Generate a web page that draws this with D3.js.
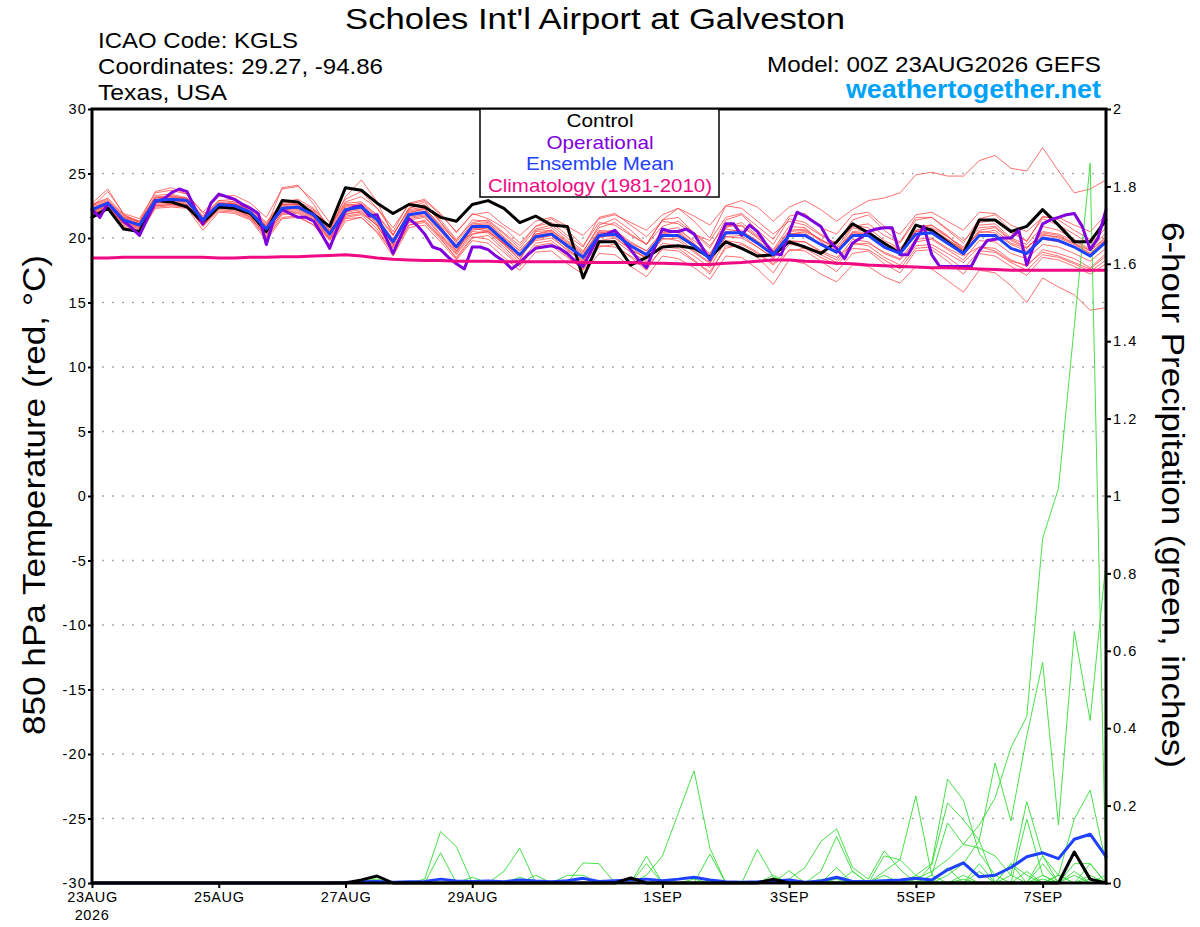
<!DOCTYPE html>
<html><head><meta charset="utf-8">
<script src="https://cdn.jsdelivr.net/npm/d3@7"></script>
<style>
body{margin:0;background:#fff}
svg{display:block}
text{font-family:"Liberation Sans",Arial,Helvetica,sans-serif}
</style>
</head><body>
<svg id="c" width="1200" height="927"></svg>
<script>
// ---------------- DATA ----------------
const hours6 = d3.range(0, 385, 6);   // forecast hours, 6-hourly (65)
const hours3 = d3.range(0, 385, 3);   // forecast hours, 3-hourly (129)

const dateTickHours  = [0, 48, 96, 144, 216, 264, 312, 360];
const dateTickLabels = ["23AUG","25AUG","27AUG","29AUG","1SEP","3SEP","5SEP","7SEP"];
const yearLabel = "2026";
const tempTicks = [-30,-25,-20,-15,-10,-5,0,5,10,15,20,25,30];
const tempTickLabels = ["-30","-25","-20","-15","-10","-5","0","5","10","15","20","25","30"];
const precipTicks = [0,0.2,0.4,0.6,0.8,1,1.2,1.4,1.6,1.8,2];
const precipTickLabels = ["0","0.2","0.4","0.6","0.8","1","1.2","1.4","1.6","1.8","2"];
const legendLabels = ["Control","Operational","Ensemble Mean","Climatology (1981-2010)"];

// 850 hPa temperature (C)
const controlTemp = [21.6,22.3,20.7,20.5,22.9,22.8,22.4,21.2,
 22.4,22.3,21.9,20.5,22.9,22.8,21.8,20.9,
 23.9,23.7,22.7,21.9,22.6,22.4,21.6,21.3,
 22.6,22.9,22.3,21.2,21.7,21.0,20.9,16.9,
 19.7,19.7,17.9,18.5,19.3,19.4,19.2,18.5,
 19.7,19.2,18.6,18.7,19.7,19.3,18.8,19.7,
 21.1,20.4,19.6,18.8,21.0,20.6,19.7,18.8,
 21.4,21.4,20.5,20.9,22.2,21.0,19.7,19.7,21.4];

const operationalTemp = [22.2,21.6,22.7,22.0,21.3,20.8,20.2,21.5,
 22.8,23.0,23.5,23.8,23.6,22.3,21.1,22.7,
 23.4,23.2,23.0,22.6,22.3,21.9,19.5,21.5,
 22.2,21.9,21.6,21.6,21.3,20.3,19.2,20.8,
 22.1,22.4,22.5,21.7,21.8,20.2,18.8,20.2,
 21.5,21.0,20.3,19.3,19.1,18.5,18.0,17.6,
 19.3,19.3,19.1,18.6,18.2,17.6,18.1,18.7,
 19.2,19.3,19.4,19.2,18.8,18.2,17.8,19.0,
 20.2,20.3,20.6,19.9,19.1,18.3,17.7,19.2,
 20.7,20.5,20.5,20.7,20.3,19.3,18.3,19.7,
 21.1,21.1,20.2,21.0,20.5,19.6,18.8,18.7,
 20.4,22.0,21.7,21.3,20.9,19.8,19.2,18.4,
 19.6,20.0,20.5,20.7,20.8,20.8,18.7,18.7,
 19.8,20.9,18.7,17.8,17.8,17.8,17.8,17.8,
 19.0,19.8,19.9,20.0,20.0,20.6,17.9,19.6,
 21.1,21.4,21.6,21.8,21.9,20.9,19.1,20.0,
 22.2];

const meanTemp = [22.2,22.7,21.4,21.0,22.9,23.0,22.9,21.4,
 22.6,22.5,22.0,20.7,22.3,22.4,21.8,20.3,
 22.2,22.4,21.4,19.7,21.8,22.0,20.7,19.3,
 20.9,20.9,19.8,18.7,20.1,20.3,19.4,18.5,
 20.2,20.3,19.4,18.7,20.2,20.2,19.4,18.4,
 20.4,20.4,19.6,18.7,20.2,20.2,19.5,18.9,
 20.2,20.2,19.3,18.8,20.3,20.4,19.6,18.8,
 20.2,20.2,19.2,18.8,20.0,19.8,19.3,18.6,19.7];

const climTemp = [18.45,18.45,18.5,18.5,18.5,18.5,18.5,18.5,
 18.45,18.45,18.5,18.5,18.55,18.55,18.6,18.65,
 18.7,18.6,18.45,18.35,18.3,18.25,18.25,18.2,
 18.2,18.2,18.15,18.15,18.15,18.15,18.15,18.1,
 18.1,18.1,18.1,18.05,18.05,18.0,17.95,17.95,
 18.05,18.1,18.2,18.3,18.3,18.2,18.15,18.05,
 18.0,17.9,17.85,17.8,17.75,17.7,17.7,17.65,
 17.6,17.55,17.5,17.5,17.5,17.5,17.5,17.5,17.5];

const memberTemps = [
 [22.6,23.1,21.8,21.2,23.3,23.4,23.1,21.6, 22.9,23.0,22.4,21.2,22.8,23.0,22.3,20.9, 22.8,23.2,22.3,20.8,22.6,22.9,21.8,20.5, 21.8,22.0,21.0,20.2,21.3,21.6,20.9,20.2, 21.5,21.8,21.2,20.6,21.8,22.3,21.7,21.0, 22.5,22.9,22.4,21.3,22.4,22.9,22.2,21.3, 22.2,22.9,23.1,23.5,24.9,25.1,24.8,24.8, 26.0,26.4,25.4,25.2,27.0,25.2,23.5,23.8,24.5],
 [21.8,22.3,21.0,20.5,22.4,22.5,22.4,20.9, 22.1,22.0,21.5,20.0,21.6,21.7,21.0,19.5, 21.5,21.6,20.4,18.6,20.8,21.0,19.7,18.3, 19.8,19.6,18.5,17.5,18.9,19.0,18.0,17.2, 18.8,18.7,17.8,17.0,18.6,18.4,17.7,16.8, 18.6,18.5,17.6,16.4,18.3,18.0,17.2,16.6, 17.9,17.8,17.0,16.5,17.8,17.6,16.7,15.8, 17.5,17.3,16.3,15.0,16.9,16.2,15.6,14.4,14.6],
 [22.4,23.6,21.9,21.5,23.5,23.7,23.4,22.0, 23.2,23.3,22.7,21.6,23.8,24.0,22.9,21.2, 23.0,23.6,22.3,20.5,22.7,23.0,21.9,20.4, 21.9,21.5,20.8,19.6,20.9,21.5,20.6,19.4, 21.2,21.0,20.2,19.5,21.4,21.6,20.4,19.2, 21.4,21.8,20.6,19.5,21.5,21.2,20.3,19.5, 21.4,21.8,20.6,19.7,21.6,21.6,20.6,19.6, 21.5,21.8,20.6,19.7,21.7,21.4,20.6,19.9,21.2],
 [21.8,22.2,20.9,20.3,22.3,22.4,22.3,20.6, 22.0,21.9,21.4,19.8,21.5,21.6,21.0,19.4, 21.3,21.6,20.5,18.9,21.0,21.4,20.0,18.4, 20.0,20.2,19.1,17.9,19.4,19.6,18.6,17.5, 19.3,19.5,18.5,17.5,19.3,19.2,18.3,17.2, 19.4,19.3,18.5,17.3,19.1,19.0,18.2,17.4, 18.8,19.0,18.0,17.3,19.0,19.1,18.2,17.2, 18.8,18.6,17.8,17.1,18.5,18.3,17.8,17.2,18.0],
 [22.5,22.9,21.6,21.3,23.1,23.3,23.0,21.5, 22.8,22.6,22.3,21.0,22.6,22.7,22.0,20.4, 22.5,22.7,21.7,20.2,22.3,22.6,21.2,19.8, 21.4,21.3,20.3,19.2,20.7,21.0,20.0,19.0, 20.8,21.2,20.3,19.5,20.9,21.3,20.4,19.4, 21.0,20.9,20.0,19.0,20.6,20.7,19.8,19.3, 20.9,21.1,20.2,19.6,21.4,21.6,20.7,19.8, 21.0,21.1,20.0,19.5,20.9,20.6,19.9,19.1,20.4],
 [21.9,22.4,21.1,20.7,22.7,22.8,22.6,21.2, 22.4,22.3,21.6,20.2,22.0,22.1,21.5,20.0, 21.8,22.1,20.9,19.2,21.4,21.6,20.2,18.8, 20.5,20.4,19.3,18.1,19.6,19.8,18.8,17.9, 19.6,19.8,18.9,18.2,19.6,19.4,18.6,17.7, 19.8,19.6,18.9,18.0,19.5,19.4,18.7,18.1, 19.6,19.4,18.5,17.9,19.4,19.5,18.8,18.1, 19.3,19.2,18.3,17.8,19.1,18.8,18.4,17.7,18.8],
 [22.7,23.8,21.8,21.3,23.6,23.9,23.4,21.9, 22.4,22.9,22.0,20.8,23.9,24.1,22.6,20.6, 23.2,24.5,22.8,20.2,22.3,22.8,21.2,19.6, 20.3,20.6,19.5,18.3,20.6,20.8,19.8,18.9, 21.0,21.5,20.6,19.5,21.4,22.3,21.3,20.0, 22.5,22.3,21.3,20.3,21.3,21.0,20.2,19.6, 21.0,20.8,19.8,19.2,20.6,21.0,20.1,19.2, 20.4,20.6,19.6,19.2,20.5,20.3,19.8,19.0,20.1],
 [22.0,22.6,21.2,20.8,22.6,22.7,22.6,21.0, 22.5,22.4,21.8,20.4,22.2,22.3,21.6,19.9, 21.9,22.0,21.0,18.9,21.6,21.8,20.5,19.0, 20.6,20.8,19.6,18.3,20.2,20.4,19.2,18.1, 20.0,20.4,19.3,18.4,20.6,20.8,19.6,18.3, 20.9,21.0,20.1,18.9,20.3,20.5,19.9,19.0, 20.8,20.5,19.5,18.7,20.9,21.0,20.2,19.0, 21.2,21.4,20.4,19.8,21.5,21.0,20.3,19.5,20.8],
 [22.3,22.8,21.5,21.0,23.0,23.1,23.0,21.3, 22.7,22.7,22.1,20.9,22.5,22.6,22.1,20.6, 22.6,22.5,21.5,19.4,21.9,22.3,20.9,19.0, 20.8,20.5,19.5,18.5,20.5,20.6,19.6,18.7, 20.6,20.5,19.6,19.0,20.5,20.4,19.5,18.7, 20.8,21.2,20.2,19.1,20.9,20.8,19.7,18.9, 20.5,20.6,19.5,18.9,20.6,20.8,20.1,19.3, 20.8,20.9,19.9,19.3,20.3,20.0,19.5,18.8,19.9],
 [22.1,22.4,21.2,20.8,22.8,22.9,22.7,21.3, 22.5,22.3,21.9,20.5,22.1,22.2,21.6,20.1, 22.0,22.2,21.1,19.6,21.5,21.7,20.3,18.9, 20.9,21.0,19.9,18.8,20.0,20.2,19.0,18.2, 19.8,20.0,19.1,18.4,20.0,19.8,18.9,18.0, 20.1,20.2,19.3,18.4,19.8,19.7,18.9,18.3, 19.9,19.7,18.8,18.3,19.7,19.9,19.1,18.3, 19.8,19.7,18.8,18.4,19.5,19.3,18.8,18.2,19.2],
 [22.6,23.0,21.7,21.2,23.2,23.2,23.1,21.7, 22.9,22.8,22.3,21.1,22.7,22.8,22.2,20.8, 22.7,22.8,21.8,20.3,22.2,22.4,21.4,19.9, 21.2,21.4,20.4,19.4,20.9,21.2,20.2,19.3, 21.6,21.9,21.0,20.1,21.3,21.1,20.3,19.8, 21.6,21.9,20.9,19.9,21.7,21.9,20.8,20.3, 21.8,22.0,20.9,20.3,21.8,22.0,21.3,20.6, 22.0,21.9,21.0,20.5,21.6,21.6,21.0,20.5,21.8],
 [22.0,22.5,21.3,20.9,22.5,22.6,22.5,20.9, 22.3,22.2,21.7,20.3,21.9,22.0,21.4,19.9, 21.7,21.9,21.0,19.3,21.2,21.3,20.1,18.7, 20.3,20.5,19.6,18.7,19.8,20.0,19.1,18.3, 20.1,20.1,19.1,18.5,19.9,20.0,19.0,18.1, 20.1,20.0,19.3,18.5,19.7,19.7,19.0,18.5, 19.5,19.6,18.9,18.4,19.9,20.0,19.2,18.6, 19.3,19.0,18.2,17.9,18.9,18.6,18.1,17.6,18.6],
 [22.3,22.6,21.5,21.1,22.9,23.0,22.8,21.4, 22.6,22.7,22.0,20.6,22.4,22.5,21.9,20.4, 22.3,22.4,21.5,19.8,22.1,22.3,21.0,19.7, 21.1,21.2,20.1,19.0,20.3,20.6,19.7,18.8, 20.4,20.6,19.7,19.0,20.4,20.6,19.8,18.8, 20.7,20.5,19.8,18.9,20.5,20.6,19.9,19.2, 20.4,20.4,19.6,19.1,20.5,20.6,19.9,19.0, 20.5,20.4,19.5,19.0,20.2,20.1,19.6,18.8,19.9],
 [21.9,22.3,21.1,20.6,22.5,22.6,22.4,21.0, 22.2,22.1,21.6,20.1,21.8,21.9,21.3,19.8, 21.6,21.8,20.7,18.8,21.0,21.2,19.9,18.5, 20.1,19.9,18.9,17.8,19.3,19.4,18.5,17.6, 19.4,19.3,18.6,17.8,19.1,19.0,18.2,17.4, 19.2,19.5,18.8,17.9,19.0,19.2,18.5,17.9, 19.2,19.1,18.3,17.6,19.2,19.3,18.5,17.6, 19.0,18.9,18.1,17.5,18.7,18.5,18.0,17.4,18.3],
 [22.4,22.8,21.6,21.1,23.1,23.2,23.0,21.5, 22.7,22.6,22.2,20.9,22.6,22.6,22.0,20.5, 22.4,22.6,21.6,19.9,22.0,22.2,20.9,19.4, 21.0,21.1,20.0,19.0,20.3,20.5,19.5,18.6, 20.3,20.4,19.5,18.8,20.2,20.1,19.4,18.5, 20.3,20.4,19.6,18.8,20.1,20.2,19.5,18.9, 20.1,20.2,19.3,18.8,20.3,20.4,19.6,18.9, 20.1,20.2,19.2,18.8,19.9,19.7,19.3,18.7,19.6],
 [22.1,22.6,21.3,20.9,22.8,22.9,22.8,21.2, 22.5,22.4,21.8,20.6,22.2,22.3,21.7,20.2, 22.1,22.3,21.2,19.5,21.7,21.9,20.6,19.2, 20.7,20.7,19.6,18.6,19.9,20.2,19.3,18.4, 20.5,20.3,19.4,18.6,20.3,20.5,19.5,18.6, 20.5,20.6,19.7,18.8,20.3,20.4,19.5,18.8, 20.4,20.3,19.5,19.0,20.5,20.7,19.9,19.1, 20.6,20.8,19.8,19.2,20.4,20.2,19.6,19.0,20.0]
];

// 6-hour precipitation (inches)
const controlPrecip = [0,0,0,0,0,0,0,0, 0,0,0,0,0,0,0,0,
 0,0.008,0.018,0,0,0,0,0, 0,0,0,0,0,0,0,0,
 0,0,0.013,0,0,0,0,0, 0,0,0,0.01,0,0,0,0,
 0,0,0,0,0,0,0,0, 0,0,0,0,0,0,0.08,0.01,0];

const meanPrecip = [0,0,0,0,0,0,0,0, 0,0,0,0,0,0,0,0,
 0.001,0.003,0.004,0.002,0.003,0.004,0.01,0.005,
 0.004,0.005,0.003,0.008,0.005,0.003,0.006,0.012,
 0.004,0.006,0.008,0.01,0.006,0.01,0.015,0.008,
 0.003,0.002,0.003,0.005,0.008,0.002,0.005,0.015,
 0.004,0.004,0.006,0.008,0.012,0.008,0.034,0.052,
 0.016,0.02,0.04,0.068,0.078,0.063,0.113,0.126,0.068];

const memberPrecips = [
 [0,0,0,0,0,0,0,0, 0,0,0,0,0,0,0,0, 0,0,0,0,0,0,0,0, 0,0,0,0,0,0,0,0, 0,0,0,0,0,0,0,0, 0,0,0,0,0,0,0,0.01, 0,0,0,0,0.01,0.03,0.06,0.1, 0.15,0.22,0.35,0.43,0.89,1.02,1.44,1.86,0],
 [0,0,0,0,0,0,0,0, 0,0,0,0,0,0,0,0, 0,0,0,0,0,0,0,0, 0,0,0,0,0,0,0,0, 0,0,0,0,0,0,0,0, 0,0,0,0,0,0,0,0, 0,0,0,0,0,0,0.02,0.05, 0.11,0.31,0.16,0.38,0.57,0.15,0.65,0.42,0.83],
 [0,0,0,0,0,0,0,0, 0,0,0,0,0,0,0,0, 0,0,0,0,0,0,0,0, 0,0,0,0,0,0,0,0, 0,0,0,0,0,0,0,0, 0,0,0,0,0,0,0,0, 0,0,0.03,0.06,0.225,0.02,0.155,0.1, 0.09,0.07,0.02,0.21,0.07,0.02,0.165,0.24,0.05],
 [0,0,0,0,0,0,0,0, 0,0,0,0,0,0,0,0, 0,0,0,0,0,0,0,0, 0,0,0,0,0,0,0,0, 0,0,0,0,0,0,0,0, 0,0,0,0,0,0,0,0, 0,0,0,0,0.02,0.05,0.268,0.214, 0.077,0.02,0,0.165,0.02,0,0.05,0.05,0],
 [0,0,0,0,0,0,0,0, 0,0,0,0,0,0,0,0, 0,0,0,0,0,0,0,0, 0,0,0,0,0,0,0,0, 0,0,0,0,0,0,0,0, 0,0,0,0,0.01,0.04,0.107,0.14, 0.04,0.01,0.083,0.035,0,0.047,0.207,0.163, 0.11,0,0.05,0.02,0,0.02,0,0.05,0],
 [0,0,0,0,0,0,0,0, 0,0,0,0,0,0,0,0, 0,0,0,0,0,0,0,0, 0,0,0,0,0,0,0,0, 0,0,0,0,0,0,0,0, 0,0,0,0,0.032,0,0.03,0.12, 0.03,0,0.07,0.06,0.02,0,0.04,0, 0,0,0.02,0,0.07,0,0.02,0,0.02],
 [0,0,0,0,0,0,0,0, 0,0,0,0,0,0,0,0, 0,0,0,0,0,0.01,0.133,0.094, 0,0,0,0,0,0,0,0, 0,0,0,0,0,0,0,0, 0,0,0.087,0.015,0,0,0,0.04, 0,0,0,0,0,0,0,0.02, 0,0,0.05,0,0,0,0,0,0],
 [0,0,0,0,0,0,0,0, 0,0,0,0,0,0,0,0, 0,0,0,0,0,0,0.078,0, 0,0,0.03,0.09,0,0,0,0.052, 0.05,0,0,0,0,0,0,0, 0,0,0,0,0,0,0,0, 0,0,0,0,0,0,0,0, 0.03,0,0,0,0.02,0,0,0,0],
 [0,0,0,0,0,0,0,0, 0,0,0,0,0,0,0,0, 0,0,0,0,0,0,0,0, 0,0,0,0,0,0,0,0, 0,0,0,0.02,0.07,0.18,0.29,0.09, 0,0,0,0,0,0,0,0, 0,0,0.02,0,0,0,0,0, 0,0,0,0,0.05,0,0,0,0],
 [0,0,0,0,0,0,0,0, 0,0,0,0,0,0,0,0, 0,0.005,0.01,0,0,0,0,0, 0.015,0,0,0,0.02,0,0.02,0.02, 0,0,0,0.07,0,0,0,0.075, 0,0,0,0.02,0,0,0,0, 0,0,0,0,0,0.02,0,0, 0,0,0,0,0,0.02,0,0.01,0],
 [0,0,0,0,0,0,0,0, 0,0,0,0,0,0,0,0, 0,0,0.005,0,0,0,0,0, 0,0,0,0.015,0,0,0,0, 0,0,0,0.05,0,0,0,0, 0,0,0,0,0,0,0,0, 0.03,0,0,0,0.01,0,0,0, 0.05,0,0,0.03,0,0,0.03,0,0],
 [0,0,0,0,0,0,0,0, 0,0,0,0,0,0,0,0, 0,0,0,0,0.005,0,0,0, 0,0,0,0,0,0,0,0, 0,0,0,0,0,0,0.01,0, 0,0,0,0,0,0,0.01,0, 0,0,0,0,0,0,0,0.01, 0,0,0,0,0.01,0,0,0.02,0]
];

// ---------------- DRAWING ----------------
const svg = d3.select("#c");
const L = 92, R = 1106, T = 109, B = 883;
const x  = d3.scaleLinear().domain([0, 384]).range([L, R]);
const yT = d3.scaleLinear().domain([-30, 30]).range([B, T]);
const yP = d3.scaleLinear().domain([0, 2]).range([B, T]);

const COL = {red:"#ff3838", green:"#33dd33", control:"#000000", op:"#8000dd", mean:"#1e40ff", clim:"#f00a84", site:"#00a2f8"};

// grid
svg.append("g").selectAll("line").data(tempTicks.filter(d => d > -30 && d < 30)).join("line")
  .attr("x1", L).attr("x2", R).attr("y1", d => yT(d)).attr("y2", d => yT(d))
  .attr("stroke", "#aaaaaa").attr("stroke-width", 1.4).attr("stroke-dasharray", "2,8");

const lineT = (hrs) => d3.line().x((d, i) => x(hrs[i])).y(d => yT(d));
const lineP = (hrs) => d3.line().x((d, i) => x(hrs[i])).y(d => yP(d));

// temperature ensemble members
svg.append("g").selectAll("path").data(memberTemps).join("path")
  .attr("d", lineT(hours6)).attr("fill", "none")
  .attr("stroke", COL.red).attr("stroke-width", 0.9).attr("stroke-opacity", 0.8);

// precipitation ensemble members
svg.append("g").selectAll("path").data(memberPrecips).join("path")
  .attr("d", lineP(hours6)).attr("fill", "none")
  .attr("stroke", COL.green).attr("stroke-width", 1).attr("stroke-opacity", 0.9);

function thick(data, gen, color, w) {
  svg.append("path").datum(data).attr("d", gen).attr("fill", "none")
    .attr("stroke", color).attr("stroke-width", w)
    .attr("stroke-linejoin", "round").attr("stroke-linecap", "round");
}
thick(meanPrecip, lineP(hours6), COL.mean, 3);
thick(controlPrecip, lineP(hours6), COL.control, 3);
thick(controlTemp, lineT(hours6), COL.control, 3);
thick(operationalTemp, lineT(hours3), COL.op, 3);
thick(meanTemp, lineT(hours6), COL.mean, 3);
thick(climTemp, lineT(hours6), COL.clim, 3);

// axes
const axL = svg.append("g").attr("transform", `translate(${L},0)`)
  .call(d3.axisLeft(yT).tickValues(tempTicks).tickSize(4).tickPadding(1)
    .tickFormat((d, i) => tempTickLabels[i]));
const axR = svg.append("g").attr("transform", `translate(${R},0)`)
  .call(d3.axisRight(yP).tickValues(precipTicks).tickSize(5).tickPadding(2)
    .tickFormat((d, i) => precipTickLabels[i]));
const axB = svg.append("g").attr("transform", `translate(0,${B})`)
  .call(d3.axisBottom(x).tickValues(dateTickHours).tickSize(5).tickPadding(4)
    .tickFormat((d, i) => dateTickLabels[i]));
[axL, axR, axB].forEach(a => {
  a.select(".domain").remove();
  a.selectAll(".tick line").attr("stroke", "#000").attr("stroke-width", 2);
  a.selectAll(".tick text").attr("fill", "#000").style("font-size", "14.5px")
    .style("font-family", '"Liberation Sans", Arial, sans-serif');
});
axL.selectAll(".tick text").style("letter-spacing", "1.2px");
axR.selectAll(".tick text").style("letter-spacing", "1.6px");
axB.selectAll(".tick text").style("letter-spacing", "0.6px");
svg.append("text").attr("x", x(dateTickHours[0])).attr("y", 920)
  .attr("text-anchor", "middle").style("font-size", "14.5px").style("letter-spacing", "0.6px")
  .text(yearLabel);

// frame
svg.append("rect").attr("x", L).attr("y", T).attr("width", R - L).attr("height", B - T)
  .attr("fill", "none").attr("stroke", "#000").attr("stroke-width", 3);

// legend
const lg = svg.append("g");
lg.append("rect").attr("x", 480).attr("y", T).attr("width", 239).attr("height", 88)
  .attr("fill", "#fff").attr("stroke", "#000").attr("stroke-width", 1.5);
const legColors = [COL.control, COL.op, COL.mean, COL.clim];
const legWidths = [67, 107, 148, 224];
const legBase = [127, 149, 170, 192];
legendLabels.forEach((t, i) => {
  lg.append("text").attr("x", 600 - legWidths[i] / 2).attr("y", legBase[i])
    .attr("textLength", legWidths[i]).attr("lengthAdjust", "spacingAndGlyphs")
    .style("font-size", "19px").attr("fill", legColors[i]).text(t);
});

// header texts
function txt(s, x0, y0, w, size, color, weight) {
  svg.append("text").attr("x", x0).attr("y", y0)
    .attr("textLength", w).attr("lengthAdjust", "spacingAndGlyphs")
    .style("font-size", size + "px").style("font-weight", weight || "normal")
    .attr("fill", color || "#000").text(s);
}
txt("Scholes Int'l Airport at Galveston", 345, 29, 500, 30);
txt("ICAO Code: KGLS", 98, 48, 200, 22);
txt("Coordinates: 29.27, -94.86", 98, 74, 285, 22);
txt("Texas, USA", 98, 100, 129, 22);
txt("Model: 00Z 23AUG2026 GEFS", 1101 - 334, 72, 334, 22);
txt("weathertogether.net", 1101 - 255, 98, 255, 25, COL.site, "bold");

// axis titles
svg.append("text").attr("transform", "translate(45,495) rotate(-90)")
  .attr("text-anchor", "middle").style("font-size", "31px")
  .attr("textLength", 480).attr("lengthAdjust", "spacingAndGlyphs")
  .text("850 hPa Temperature (red, °C)");
svg.append("text").attr("transform", "translate(1162,495) rotate(90)")
  .attr("text-anchor", "middle").style("font-size", "31px")
  .attr("textLength", 546).attr("lengthAdjust", "spacingAndGlyphs")
  .text("6-hour Precipitation (green, inches)");
</script>
</body></html>
